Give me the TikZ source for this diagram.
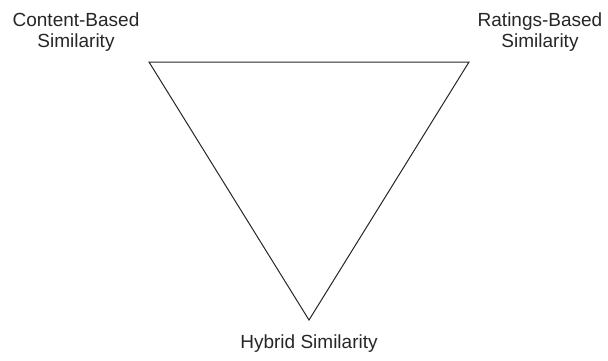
\documentclass[tikz,border=0pt]{standalone}
\usepackage{fontspec}
\setmainfont{Liberation Sans}
\begin{document}
\begin{tikzpicture}[x=1pt,y=-1pt,
  lbl/.style={font=\fontsize{19}{21}\selectfont, align=center, inner sep=0pt, text=black!85},
  edge/.style={draw=black!85, line width=1pt, line join=miter}]
\useasboundingbox (0,0) rectangle (608,360);
\coordinate (tl) at (149,62);
\coordinate (tr) at (469,62);
\coordinate (bt) at (309,320);
\draw[edge] (tl) -- (tr) -- (bt) -- cycle;
\node[lbl, anchor=base] (cb) at (76,47.7) {Content-Based\\Similarity};
\node[lbl, anchor=base] (rb) at (540,47.7) {Ratings-Based\\Similarity};
\node[lbl, anchor=base] (hy) at (309,348) {Hybrid Similarity};
\end{tikzpicture}
\end{document}
